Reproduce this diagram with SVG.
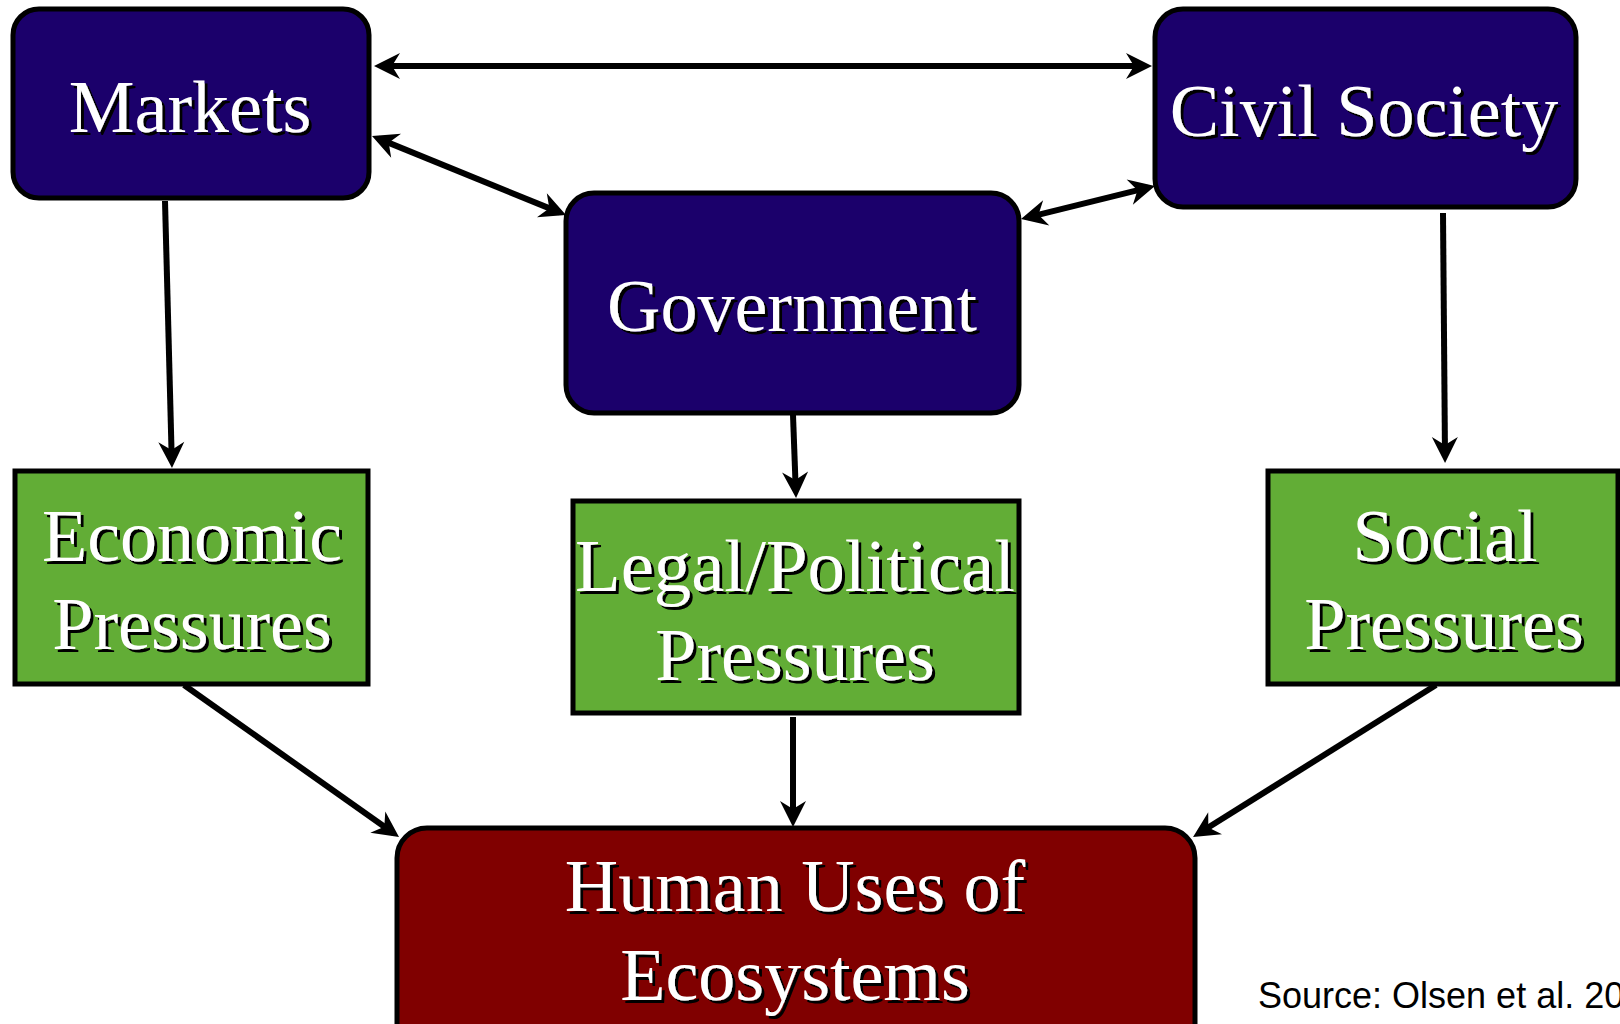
<svg xmlns="http://www.w3.org/2000/svg" width="1620" height="1024" viewBox="0 0 1620 1024">
  <defs>
    <style>
      .box { stroke: #000; stroke-width: 5; }
      .blue { fill: #1b006b; }
      .green { fill: #62ad36; }
      .red { fill: #800000; }
      .label { font-family: "Liberation Serif", "Times New Roman", serif; font-size: 74px; fill: #fff; text-anchor: middle; filter: url(#shadow); }
      .edge { stroke: #000; stroke-width: 6; fill: none; }
      .source { font-family: "Liberation Sans", Arial, sans-serif; font-size: 36px; fill: #000; }
    </style>
    <filter id="shadow" x="-10%" y="-20%" width="120%" height="140%">
      <feDropShadow dx="3" dy="3" stdDeviation="0" flood-color="#000" flood-opacity="1"/>
    </filter>
    <marker id="arrow" markerUnits="userSpaceOnUse" markerWidth="44" markerHeight="44" viewBox="-32 -16 44 32" refX="-7" refY="0" orient="auto-start-reverse">
      <path d="M0,0 L-26,-13 L-18,0 L-26,13 Z" fill="#000"/>
    </marker>
  </defs>

  <rect width="1620" height="1024" fill="#fff"/>

  <!-- connectors -->
  <g id="connectors">
    <line class="edge" x1="381" y1="66" x2="1145" y2="66" marker-start="url(#arrow)" marker-end="url(#arrow)"/>
    <line class="edge" x1="378.5" y1="138.6" x2="559.5" y2="212.4" marker-start="url(#arrow)" marker-end="url(#arrow)"/>
    <line class="edge" x1="1027.8" y1="217.3" x2="1148.2" y2="187.7" marker-start="url(#arrow)" marker-end="url(#arrow)"/>
    <line class="edge" x1="165" y1="201" x2="171.8" y2="461" marker-end="url(#arrow)"/>
    <line class="edge" x1="793" y1="415" x2="795.8" y2="491" marker-end="url(#arrow)"/>
    <line class="edge" x1="1443" y1="213" x2="1445" y2="456" marker-end="url(#arrow)"/>
    <line class="edge" x1="184" y1="685" x2="393.3" y2="833" marker-end="url(#arrow)"/>
    <line class="edge" x1="793" y1="717" x2="793" y2="820" marker-end="url(#arrow)"/>
    <line class="edge" x1="1436" y1="685" x2="1199" y2="833.3" marker-end="url(#arrow)"/>
  </g>

  <!-- actors -->
  <g id="markets">
    <rect class="box blue" x="13" y="9" width="356" height="189" rx="26"/>
    <text class="label" x="190" y="132">Markets</text>
  </g>
  <g id="civil-society">
    <rect class="box blue" x="1155" y="9" width="421" height="198" rx="28"/>
    <text class="label" x="1364" y="136">Civil Society</text>
  </g>
  <g id="government">
    <rect class="box blue" x="566" y="193" width="453" height="220" rx="28"/>
    <text class="label" x="792" y="331">Government</text>
  </g>

  <!-- pressures -->
  <g id="economic-pressures">
    <rect class="box green" x="15" y="471" width="353" height="213"/>
    <text class="label" x="192" y="561">Economic</text>
    <text class="label" x="192" y="649">Pressures</text>
  </g>
  <g id="legal-political-pressures">
    <rect class="box green" x="573" y="501" width="446" height="212"/>
    <text class="label" x="795" y="591" textLength="440" lengthAdjust="spacingAndGlyphs">Legal/Political</text>
    <text class="label" x="795" y="680">Pressures</text>
  </g>
  <g id="social-pressures">
    <rect class="box green" x="1268" y="471" width="350" height="213"/>
    <text class="label" x="1445" y="561">Social</text>
    <text class="label" x="1444" y="649">Pressures</text>
  </g>

  <!-- outcome -->
  <g id="human-uses">
    <rect class="box red" x="397" y="828" width="798" height="240" rx="30"/>
    <text class="label" x="795" y="911">Human Uses of</text>
    <text class="label" x="795" y="1000">Ecosystems</text>
  </g>

  <text class="source" x="1258" y="1008">Source: Olsen et al. 20</text>
</svg>
